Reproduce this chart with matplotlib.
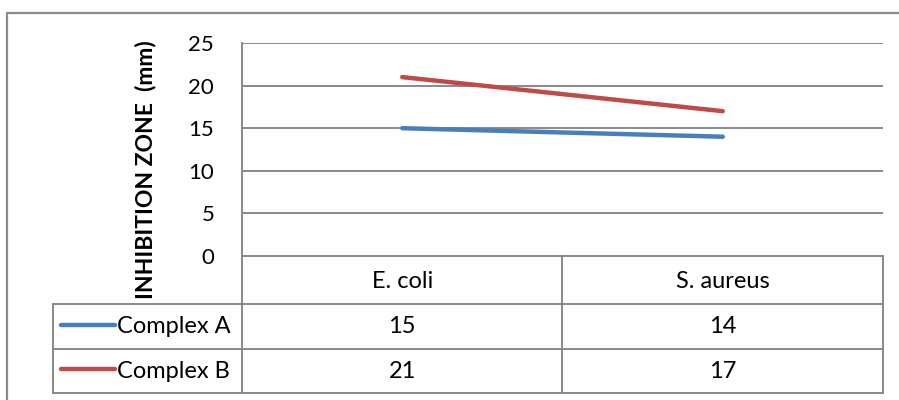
import matplotlib.pyplot as plt
import matplotlib.transforms as mtransforms

# inhibition zone data (mm)
organisms = ['E. coli', 'S. aureus']
series_names = ['Complex A', 'Complex B']
complex_a = [15, 14]
complex_b = [21, 17]
yticks = [0, 5, 10, 15, 20, 25]

colors = ['#4A7EBB', '#BE4B48']
grid_c = '#898989'
W, H = 899, 400
fs = 16
fs_tab = 17

plt.rcParams['font.family'] = ['Lato', 'DejaVu Sans']

fig = plt.figure(figsize=(W / 100, H / 100), dpi=100)

# overlay in pixel coordinates for the border and table
over = fig.add_axes([0, 0, 1, 1])
over.set_xlim(0, W)
over.set_ylim(H, 0)
over.axis('off')

# plot area box in pixels
left, right, top, bottom = 242, 883, 43, 256
ax = fig.add_axes([left / W, 1 - bottom / H, (right - left) / W, (bottom - top) / H])
ax.set_xlim(0, len(organisms))
ax.set_ylim(0, 25)
ax.set_yticks(yticks)
ax.set_xticks([])
for s in ['top', 'right', 'bottom']:
    ax.spines[s].set_visible(False)
ax.spines['left'].set_color(grid_c)
ax.spines['left'].set_linewidth(1.4)
ax.grid(axis='y', color=grid_c, linewidth=1.4)
ax.set_axisbelow(True)
ax.tick_params(axis='y', length=0, pad=20, labelsize=fs, labelcolor='black')

xs = [i + 0.5 for i in range(len(organisms))]
for vals, c in zip([complex_a, complex_b], colors):
    ax.plot(xs, vals, color=c, linewidth=3.2, solid_capstyle='round', zorder=3)

# axis title sits a little below the plot centre
over.text(146, 170, 'INHIBITION ZONE  (mm)', rotation=90, ha='center', va='center',
          fontsize=16.5, fontweight='bold')

# outer chart border
over.plot([7, 7, W + 5], [H + 5, 13, 13], color='#8C8C8C', linewidth=1.6, clip_on=False)

# data table under the plot
row_y = [256, 304, 349, 393]
leg_x0 = 53
blend = mtransforms.blended_transform_factory(ax.transData, over.transData)
lw = 1.4
# horizontal rules
over.plot([left, right], [row_y[0]] * 2, color=grid_c, linewidth=lw)
for y in row_y[1:]:
    over.plot([leg_x0, right], [y, y], color=grid_c, linewidth=lw)
# vertical rules
over.plot([leg_x0, leg_x0], [row_y[1], row_y[3]], color=grid_c, linewidth=lw)
over.plot([left, left], [row_y[0], row_y[3]], color=grid_c, linewidth=lw)
for xv in range(1, len(organisms) + 1):
    ax.plot([xv, xv], [row_y[0], row_y[3]], color=grid_c, linewidth=lw,
            transform=blend, clip_on=False)

# header row
for x, name in zip(xs, organisms):
    ax.text(x, (row_y[0] + row_y[1]) / 2 + 1, name, transform=blend,
            ha='center', va='center', fontsize=fs_tab)

# series rows
for i, (name, vals, c) in enumerate(zip(series_names, [complex_a, complex_b], colors)):
    yc = (row_y[i + 1] + row_y[i + 2]) / 2
    over.plot([61, 115], [yc - 2, yc - 2], color=c, linewidth=3.2, solid_capstyle='round')
    over.text(117, yc, name, ha='left', va='center', fontsize=fs_tab)
    for x, v in zip(xs, vals):
        ax.text(x, yc, str(v), transform=blend, ha='center', va='center', fontsize=fs_tab)

fig.savefig('out.png', dpi=100)
